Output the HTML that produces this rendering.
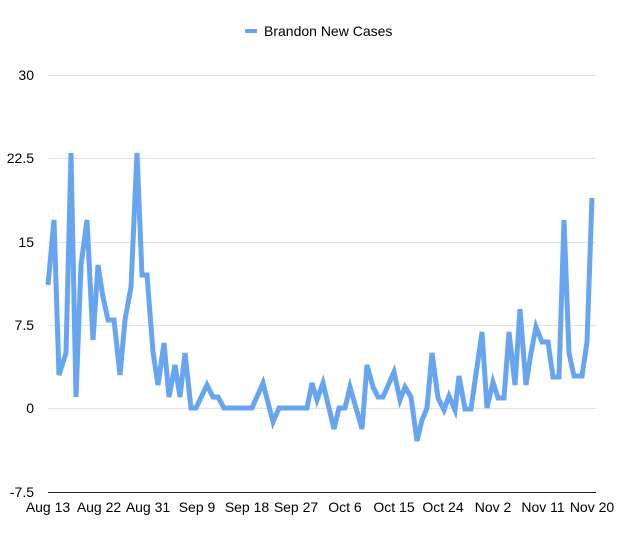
<!DOCTYPE html>
<html><head><style>body{margin:0;background:#fff}svg{display:block}</style></head><body>
<svg width="620" height="535" viewBox="0 0 620 535" xmlns="http://www.w3.org/2000/svg" font-family="Liberation Sans, sans-serif" font-size="14" fill="#000">
<g stroke="#e2e2e2" stroke-width="1">
<line x1="48" y1="75.5" x2="596" y2="75.5"/>
<line x1="48" y1="158.5" x2="596" y2="158.5"/>
<line x1="48" y1="242.5" x2="596" y2="242.5"/>
<line x1="48" y1="325.5" x2="596" y2="325.5"/>
<line x1="48" y1="408.5" x2="596" y2="408.5"/>
</g>
<line x1="48" y1="492.5" x2="596" y2="492.5" stroke="#222" stroke-width="1"/>
<g text-anchor="end">
<text x="34" y="80">30</text>
<text x="34" y="163">22.5</text>
<text x="34" y="247">15</text>
<text x="34" y="330">7.5</text>
<text x="34" y="413">0</text>
<text x="34" y="497">-7.5</text>
</g>
<g text-anchor="middle">
<text x="48" y="512">Aug 13</text>
<text x="99" y="512">Aug 22</text>
<text x="148" y="512">Aug 31</text>
<text x="197" y="512">Sep 9</text>
<text x="247" y="512">Sep 18</text>
<text x="296" y="512">Sep 27</text>
<text x="345" y="512">Oct 6</text>
<text x="394" y="512">Oct 15</text>
<text x="443" y="512">Oct 24</text>
<text x="493" y="512">Nov 2</text>
<text x="543" y="512">Nov 11</text>
<text x="592" y="512">Nov 20</text>
</g>
<line x1="245" y1="31" x2="257" y2="31" stroke="#68a5f0" stroke-width="4"/>
<text x="264" y="36">Brandon New Cases</text>
<polyline fill="none" stroke="#68a5f0" stroke-width="5" stroke-linejoin="miter" points="48,285 54,220 59,375 66,353 71,153 76,397 81,265 87,220 93,340 98,265 103,297 108,320 114,320 120,375 125,320 131,287 137,153 142,275 147,275 153,352 158,385 164,343 169,397 175,365 180,397 185,353 191,408 196,408 207,385 213,397 218,397 224,408 252,408 263,383 273,422 279,408 307,408 312,383 317,400 323,383 334,429 339,408 345,408 350,387 362,429 367,365 373,387 378,397 383,397 394,372 400,400 405,387 411,397 417,441 422,420 427,408 432,353 438,398 444,410 449,396 455,410 459,376 465,409 471,409 482,332 487,408 493,382 498,398 504,398 509,332 515,385 520,309 526,385 531,353 536,327 542,342 548,342 553,377 559,377 564,220 569,353 574,376 582,376 587,342 592,198"/>
</svg>
</body></html>
